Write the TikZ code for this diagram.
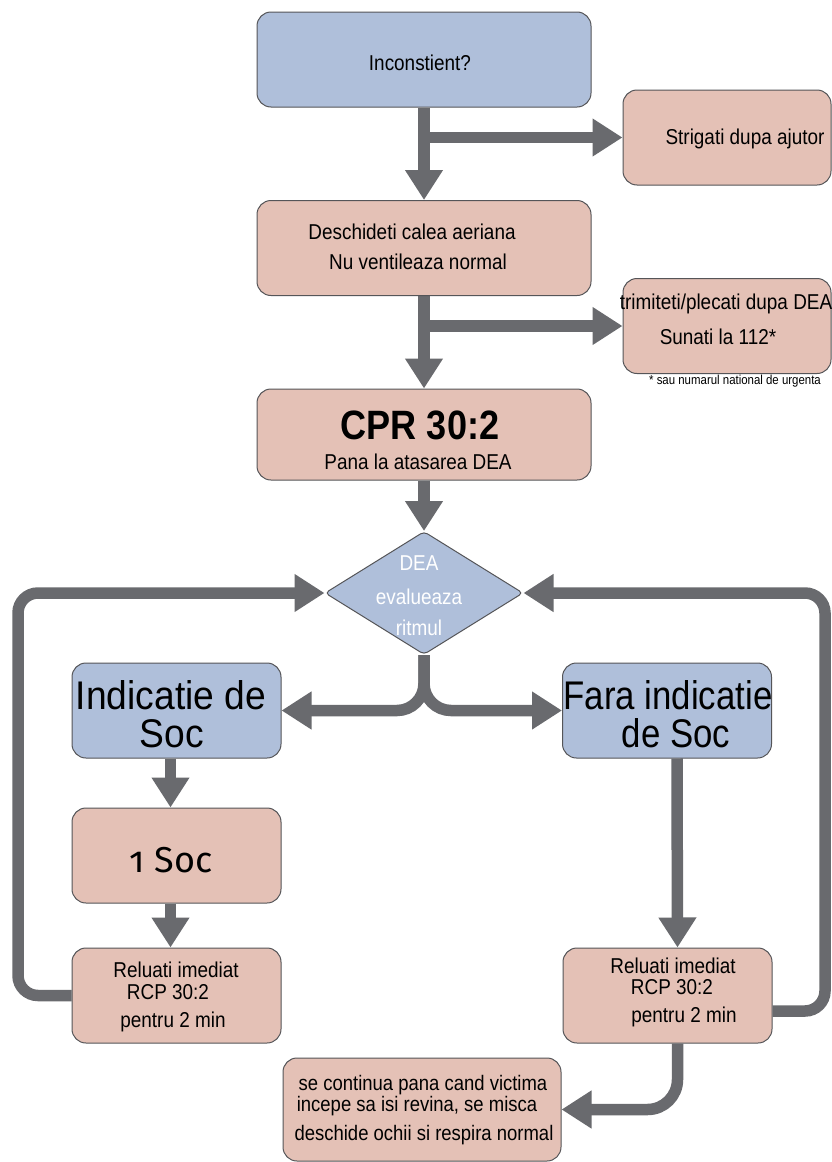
\documentclass[tikz,border=0pt]{standalone}
\usepackage{fontspec}
\setmainfont{Liberation Sans}[FakeStretch=0.88]
\newfontfamily\headwide{Liberation Sans}[FakeStretch=0.93]
\newfontfamily\headnarrow{Liberation Sans}[FakeStretch=0.87]
\newfontfamily\shockfont{Fira Sans}[Numbers=OldStyle]
\usetikzlibrary{arrows.meta,shapes.geometric,backgrounds}
\definecolor{boxblue}{HTML}{AFBFDA}
\definecolor{boxpink}{HTML}{E4C1B6}
\definecolor{edgegray}{HTML}{555558}
\definecolor{flowgray}{HTML}{696A6E}
\newcommand{\fsz}[1]{\fontsize{#1}{#1}\selectfont}
\begin{document}
\begin{tikzpicture}[x=1pt,y=-1pt,
  box/.style={draw=edgegray, line width=1pt, rounded corners=14pt, inner sep=0pt},
  pinkbox/.style={box, fill=boxpink},
  bluebox/.style={box, fill=boxblue},
  wide/.style={minimum width=334pt, minimum height=95pt},
  side/.style={minimum width=208pt, minimum height=95pt},
  col/.style={minimum width=209pt, minimum height=95pt},
  txt/.style={anchor=base, inner sep=0pt, font=\fsz{21.5}},
  big/.style={anchor=base, inner sep=0pt},
  flow/.style={draw=flowgray, line width=11.5pt},
  arr/.style={flow, -{Triangle[width=36pt,length=30pt]}},
]
\useasboundingbox (0,0) rectangle (832,1162);

% boxes of the flow
\node[bluebox, wide] (inc) at (424,59.5) {};
\node[pinkbox, side] (strig) at (727,137.5) {};
\node[pinkbox, wide] (desc) at (424,248) {};
\node[pinkbox, side] (trim) at (727,326) {};
\node[pinkbox, minimum width=334pt, minimum height=91pt] (cpr) at (424,434.5) {};
\node[diamond, draw=edgegray, fill=boxblue, line width=1pt, inner sep=0pt,
      minimum width=198pt, minimum height=123pt, rounded corners=4pt] (dea) at (424,593) {};
\node[bluebox, col] (ind) at (176.5,710.5) {};
\node[bluebox, col] (fara) at (667,710.5) {};
\node[pinkbox, col] (soc) at (176.5,855.5) {};
\node[pinkbox, col] (relL) at (176.5,995.5) {};
\node[pinkbox, col] (relR) at (667.5,995.5) {};
\node[pinkbox, minimum width=278pt, minimum height=103pt] (fin) at (422,1109.5) {};

% texts
\node[txt] (inc-t) at (420,70.5) {Inconstient?};
\node[txt] (strig-t) at (745,144.5) {Strigati dupa ajutor};
\node[txt] (desc-t1) at (412,239.5) {Deschideti calea aeriana};
\node[txt] (desc-t2) at (418,269.5) {Nu ventileaza normal};
\node[txt] (trim-t1) at (726,309.5) {trimiteti/plecati dupa DEA};
\node[txt] (trim-t2) at (718,344.5) {Sunati la 112*};
\node[txt, font=\fsz{13}] (note) at (735,384) {* sau numarul national de urgenta};
\node[big, font=\fsz{41}\bfseries] (cpr-t1) at (420,439) {CPR 30:2};
\node[txt] (cpr-t2) at (418,469.5) {Pana la atasarea DEA};
\node[txt, text=white] (dea-t1) at (419,570.5) {DEA};
\node[txt, text=white] (dea-t2) at (419,604.5) {evalueaza};
\node[txt, text=white] (dea-t3) at (419,635.5) {ritmul};
\node[big, font=\headwide\fsz{40}] (ind-t1) at (171,709) {Indicatie de};
\node[big, font=\headwide\fsz{40}] (ind-t2) at (172,747) {Soc};
\node[big, font=\headnarrow\fsz{40}] (fara-t1) at (668,709) {Fara indicatie};
\node[big, font=\headnarrow\fsz{40}] (fara-t2) at (676,747) {de Soc};
\node[big, font=\shockfont\fsz{36}] (soc-t) at (171,872) {1 Soc};
\node[txt] (relL-t1) at (176,977.5) {Reluati imediat};
\node[txt] (relL-t2) at (168,999.5) {RCP 30:2};
\node[txt] (relL-t3) at (173,1027.5) {pentru 2 min};
\node[txt] (relR-t1) at (673,973.5) {Reluati imediat};
\node[txt] (relR-t2) at (672,994.5) {RCP 30:2};
\node[txt] (relR-t3) at (684,1022.5) {pentru 2 min};
\node[txt, font=\fsz{21}] (fin-t1) at (423,1090) {se continua pana cand victima};
\node[txt, font=\fsz{21}] (fin-t2) at (417,1111.5) {incepe sa isi revina, se misca};
\node[txt, font=\fsz{21}] (fin-t3) at (424,1140) {deschide ochii si respira normal};

% turning points of the two loops back to the rhythm check
\coordinate (lc) at (18,593);
\coordinate (rc) at (825,593);

\begin{scope}[on background layer]
\fill[white] (0,0) rectangle (832,1162);
\draw[arr] (inc) -- (desc);
\draw[arr] (inc.south |- strig.west) -- (strig.west);
\draw[arr] (desc) -- (cpr);
\draw[arr] (desc.south |- trim.west) -- (trim.west);
\draw[arr] (cpr.south) -- (dea.north);
\draw[arr, rounded corners=27pt] (dea.south) |- (ind.east);
\draw[arr, rounded corners=27pt] (dea.south) |- (fara.west);
\draw[arr] ([xshift=-6pt]ind.south) -- ([xshift=-6pt]soc.north);
\draw[arr] ([xshift=-6pt]soc.south) -- ([xshift=-6pt]relL.north);
\draw[arr] ([xshift=10pt]fara.south) -- ([xshift=10pt]relR.north);
\draw[arr, rounded corners=20pt] (relL.west) -| (lc) -- (dea.west);
\draw[arr, rounded corners=20pt] ([yshift=-15.5pt]relR.east) -| (rc) -- (dea.east);
\draw[arr, rounded corners=30pt] ([xshift=10pt]relR.south) |- (fin.east);
\end{scope}
\end{tikzpicture}
\end{document}
